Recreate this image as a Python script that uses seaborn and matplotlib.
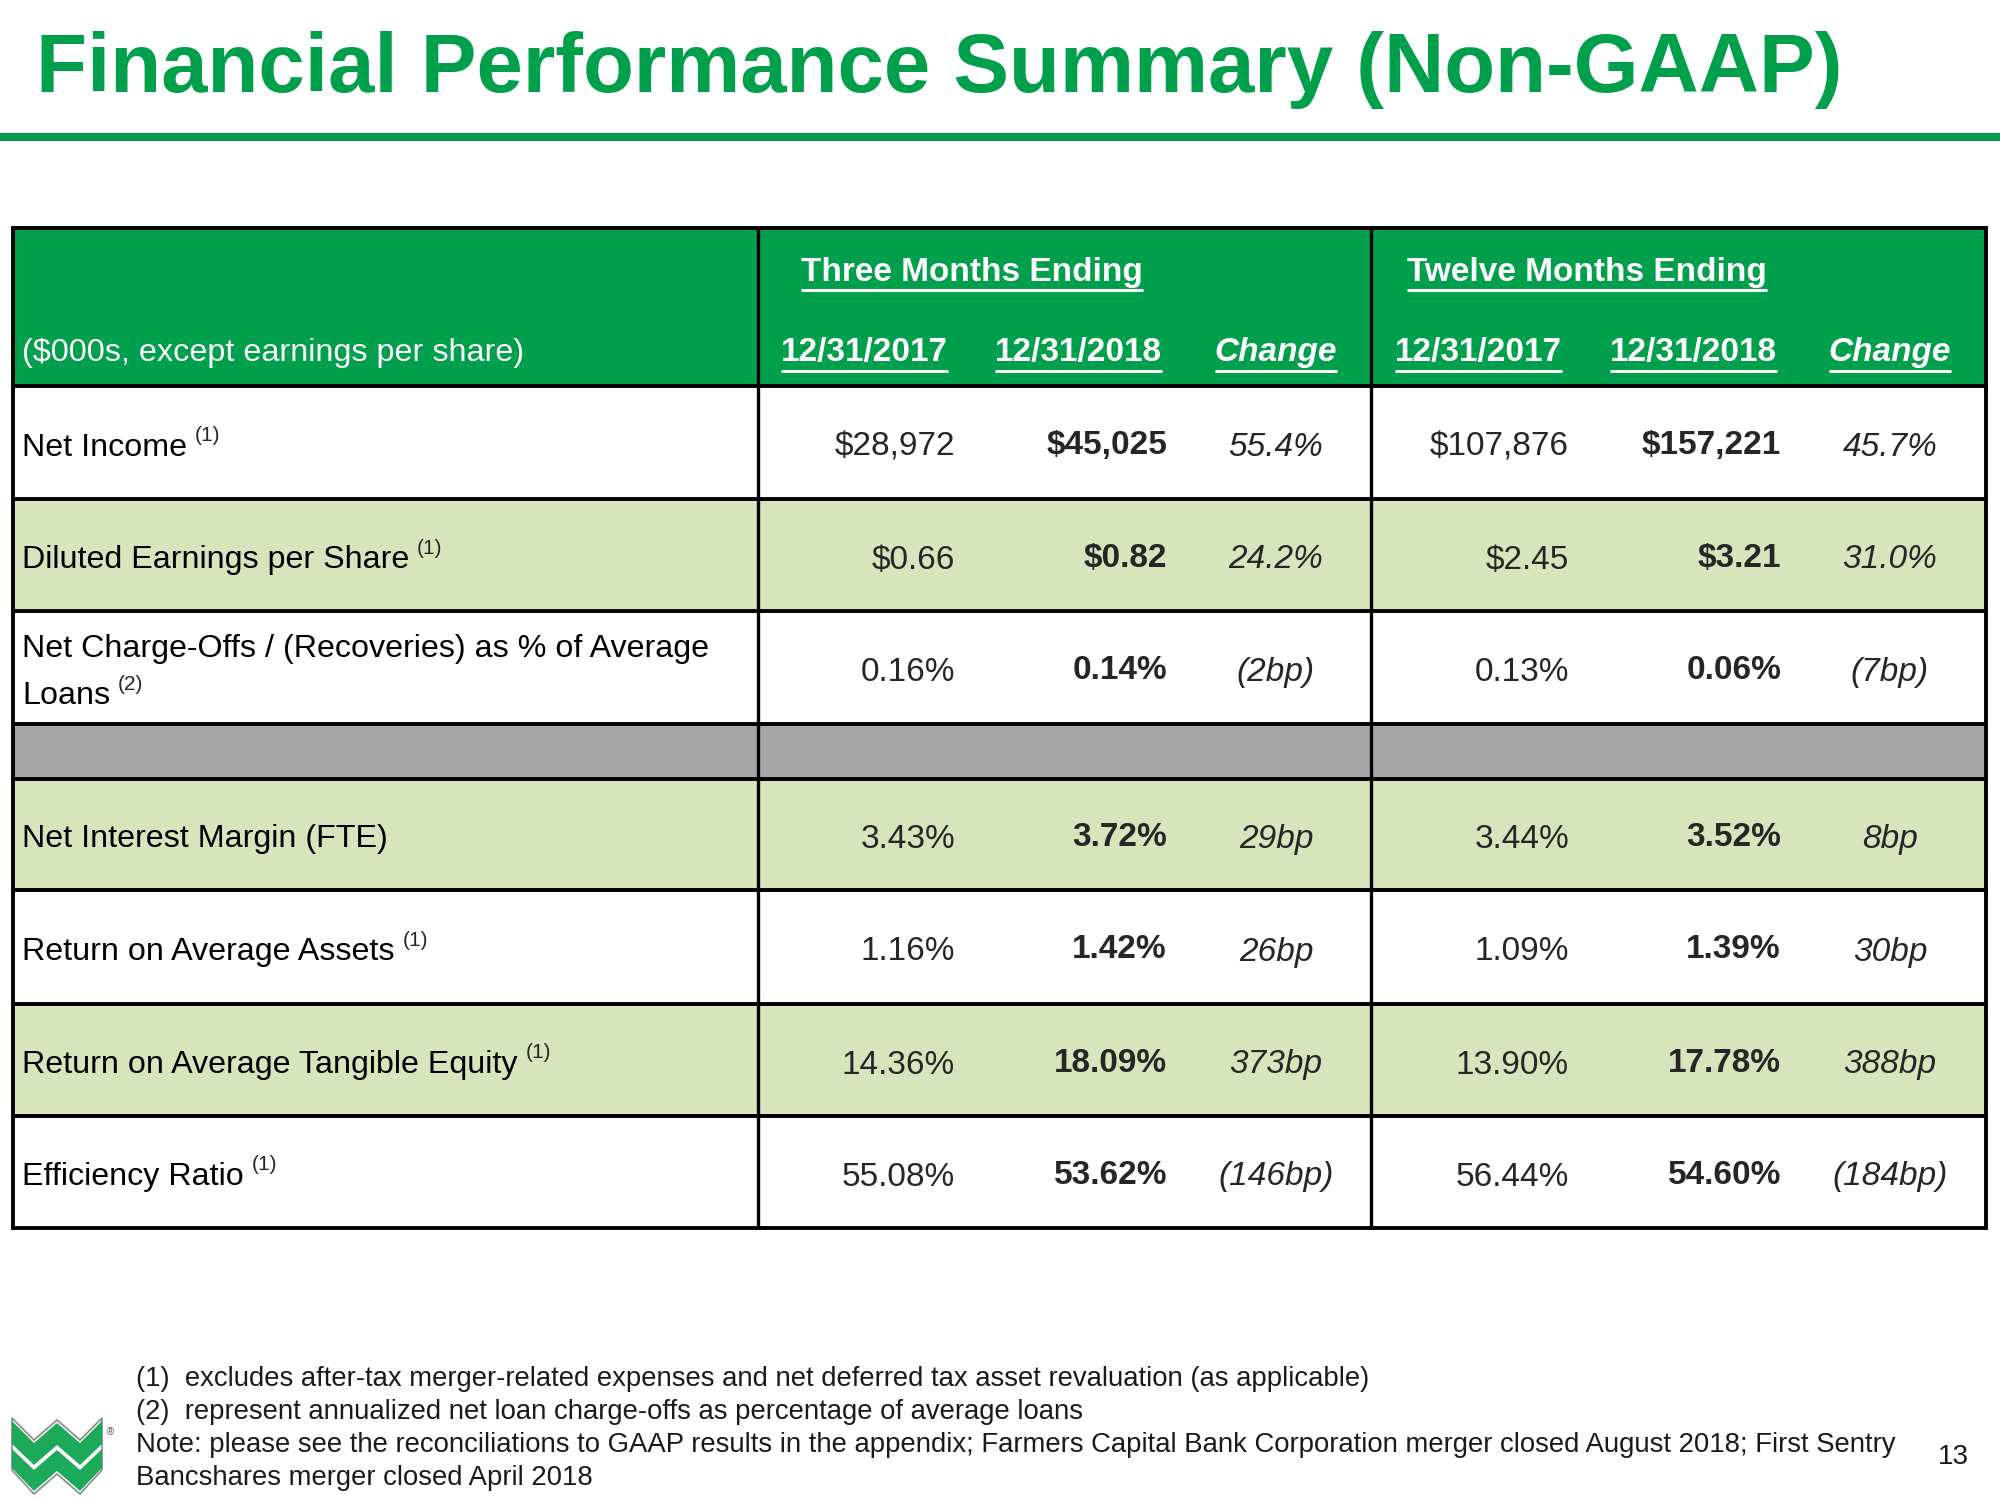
import matplotlib
matplotlib.use("Agg")
import matplotlib.pyplot as plt
from matplotlib.patches import Rectangle, Polygon
import seaborn as sns

# Table content
row_labels = ["Net Income", "Diluted Earnings per Share",
              "Net Charge-Offs / (Recoveries) as % of Average\nLoans", "",
              "Net Interest Margin (FTE)", "Return on Average Assets",
              "Return on Average Tangible Equity", "Efficiency Ratio"]
row_notes = ["(1)", "(1)", "(2)", "", "", "(1)", "(1)", "(1)"]
q_2017 = ["$28,972", "$0.66", "0.16%", "", "3.43%", "1.16%", "14.36%", "55.08%"]
q_2018 = ["$45,025", "$0.82", "0.14%", "", "3.72%", "1.42%", "18.09%", "53.62%"]
q_change = ["55.4%", "24.2%", "(2bp)", "", "29bp", "26bp", "373bp", "(146bp)"]
y_2017 = ["$107,876", "$2.45", "0.13%", "", "3.44%", "1.09%", "13.90%", "56.44%"]
y_2018 = ["$157,221", "$3.21", "0.06%", "", "3.52%", "1.39%", "17.78%", "54.60%"]
y_change = ["45.7%", "31.0%", "(7bp)", "", "8bp", "30bp", "388bp", "(184bp)"]
row_kind = ["white", "green", "white", "gray", "green", "white", "green", "white"]

period_titles = ["Three Months Ending", "Twelve Months Ending"]
date_headers = ["12/31/2017", "12/31/2018", "Change"]
unit_note = "($000s, except earnings per share)"
title = "Financial Performance Summary (Non-GAAP)"
footnotes = [
    "(1)  excludes after-tax merger-related expenses and net deferred tax asset revaluation (as applicable)",
    "(2)  represent annualized net loan charge-offs as percentage of average loans",
    "Note: please see the reconciliations to GAAP results in the appendix; Farmers Capital Bank Corporation merger closed August 2018; First Sentry",
    "Bancshares merger closed April 2018",
]
page_no = "13"

# Colours
GREEN = "#009F4B"
LIGHT = "#D8E4BC"
GRAY = "#A6A6A6"
fills = {"white": "white", "green": LIGHT, "gray": GRAY}

sns.set_theme(style="white")
plt.rcParams["font.family"] = ["Liberation Sans", "DejaVu Sans"]

fig = plt.figure(figsize=(20, 15), dpi=100)
ax = fig.add_axes([0, 0, 1, 1])
ax.set_xlim(0, 2000)
ax.set_ylim(1500, 0)
ax.axis("off")

# layout (pixels)
left, right = 13, 1986
top, head_bot = 228, 386
row_edges = [386, 499, 611, 724, 779, 890, 1004, 1116, 1228]
dividers = [758, 1371]
label_x = 22
right_edges = [955, 1167, 1569, 1781]
change_x = [1276, 1890]
date_x = [[864, 1078, 1276], [1478, 1693, 1890]]
period_x = [972, 1587]
FS_LABEL = 23.2
FS_VAL = 24

# title and rule
ax.text(36, 70, title, fontsize=60, fontweight="bold", color=GREEN, va="center", ha="left")
ax.add_patch(Rectangle((0, 133), 2000, 8, color=GREEN, lw=0))

# header band
ax.add_patch(Rectangle((left, top), right - left, head_bot - top, color=GREEN, lw=0))
ax.text(label_x, 353, unit_note, fontsize=23.3, color="white", va="center")
underlined = []
for px, ptxt in zip(period_x, period_titles):
    underlined.append(ax.text(px, 272, ptxt, fontsize=24, fontweight="bold",
                              color="white", ha="center", va="center"))
for xs in date_x:
    for x, h in zip(xs, date_headers):
        style = "italic" if h == "Change" else "normal"
        underlined.append(ax.text(x, 353, h, fontsize=24, fontweight="bold", style=style,
                                  color="white", ha="center", va="center"))

# body rows
labels_drawn = []
for i, kind in enumerate(row_kind):
    y0, y1 = row_edges[i], row_edges[i + 1]
    ax.add_patch(Rectangle((left, y0), right - left, y1 - y0, color=fills[kind], lw=0))
    yc = (y0 + y1) / 2 + 5
    lines = row_labels[i].split("\n")
    if lines[0]:
        n = len(lines)
        for k, ln in enumerate(lines):
            ly = yc + (k - (n - 1) / 2) * 48
            t = ax.text(label_x, ly, ln, fontsize=FS_LABEL, color="black", va="center")
        labels_drawn.append((t, ly, row_notes[i]))
    vals = [q_2017[i], q_2018[i], y_2017[i], y_2018[i]]
    weights = ["normal", "bold", "normal", "bold"]
    for x, v, w in zip(right_edges, vals, weights):
        ax.text(x, yc - (2 if w == "bold" else 0), v, fontsize=FS_VAL, fontweight=w,
                ha="right", va="center")
    for x, v in zip(change_x, [q_change[i], y_change[i]]):
        ax.text(x, yc, v, fontsize=FS_VAL, style="italic", ha="center", va="center")

# grid lines
for y in row_edges[:-1]:
    ax.plot([left, right], [y, y], color="black", lw=2.8, solid_capstyle="butt")
for x in dividers:
    ax.plot([x, x], [top, row_edges[-1]], color="black", lw=2.4, solid_capstyle="butt")
ax.add_patch(Rectangle((left, top), right - left, row_edges[-1] - top, fill=False,
                       ec="black", lw=2.8))

# footnotes
for k, fn in enumerate(footnotes):
    ax.text(136, 1379 + k * 33, fn, fontsize=19.8, color="#1a1a1a", va="center")
ax.text(1953, 1457, page_no, fontsize=20, color="#1a1a1a", ha="center", va="center")

# logo
logo_green = "#1DA95A"
top_band = [(12, 1421), (34, 1443), (57, 1423), (80, 1443), (102, 1421),
            (102, 1444), (80, 1465), (57, 1445), (34, 1465), (12, 1444)]
bot_band = [(12, 1449), (34, 1470), (57, 1450), (80, 1470), (102, 1449),
            (102, 1468), (80, 1491), (57, 1471), (34, 1491), (12, 1468)]
outline = [(12, 1418), (34, 1440), (57, 1420), (80, 1440), (102, 1418),
           (102, 1470), (80, 1494), (57, 1474), (34, 1494), (12, 1470)]
ax.add_patch(Polygon(outline, closed=True, fc="white", ec="#888888", lw=1.2))
ax.add_patch(Polygon(top_band, closed=True, fc=logo_green, ec="none"))
ax.add_patch(Polygon(bot_band, closed=True, fc=logo_green, ec="none"))
ax.text(110, 1432, "\u00ae", fontsize=7, color="#555555", ha="center", va="center")

# underlines and superscripts need rendered extents
fig.canvas.draw()
renderer = fig.canvas.get_renderer()
inv = ax.transData.inverted()
for t in underlined:
    bb = t.get_window_extent(renderer)
    (x0, yb), (x1, _) = inv.transform([(bb.x0, bb.y0), (bb.x1, bb.y1)])
    ax.plot([x0, x1], [yb + 2, yb + 2], color="white", lw=2.2, solid_capstyle="butt")
for t, ly, note in labels_drawn:
    if not note:
        continue
    bb = t.get_window_extent(renderer)
    x1 = inv.transform([(bb.x1, bb.y0)])[0][0]
    ax.text(x1 + 8, ly - 12, note, fontsize=15, va="center", ha="left")

fig.savefig("out.png", dpi=100)
